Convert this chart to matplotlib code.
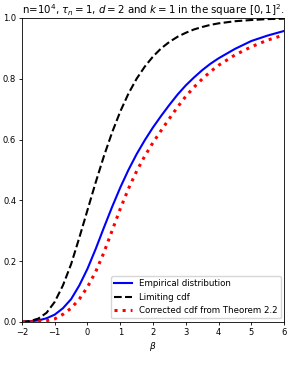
import matplotlib.pyplot as plt
import numpy as np

beta = [-2, -1.75, -1.5, -1.25, -1, -0.75, -0.5, -0.25, 0, 0.25, 0.5, 0.75, 1,
        1.25, 1.5, 1.75, 2, 2.25, 2.5, 2.75, 3, 3.25, 3.5, 3.75, 4, 4.5, 5, 5.5, 6]

empirical = [0.0, 0.002, 0.005, 0.012, 0.024, 0.045, 0.075, 0.12, 0.175, 0.24,
             0.31, 0.378, 0.442, 0.50, 0.552, 0.598, 0.64, 0.678, 0.714, 0.748,
             0.778, 0.804, 0.828, 0.849, 0.867, 0.898, 0.924, 0.942, 0.957]

limiting = [0.0006, 0.003, 0.011, 0.03, 0.066, 0.12, 0.19, 0.277, 0.368, 0.459,
            0.545, 0.623, 0.692, 0.751, 0.80, 0.84, 0.873, 0.90, 0.921, 0.938,
            0.951, 0.962, 0.970, 0.977, 0.982, 0.989, 0.993, 0.996, 0.9975]

corrected = [0.0, 0.0003, 0.001, 0.004, 0.01, 0.025, 0.045, 0.075, 0.115, 0.165,
             0.228, 0.30, 0.372, 0.438, 0.496, 0.546, 0.59, 0.63, 0.669, 0.707,
             0.742, 0.772, 0.799, 0.823, 0.844, 0.878, 0.905, 0.927, 0.944]

plt.rcParams['axes.linewidth'] = 0.6
plt.rcParams['xtick.major.size'] = 2.2
plt.rcParams['ytick.major.size'] = 2.2
plt.rcParams['xtick.major.width'] = 0.6
plt.rcParams['ytick.major.width'] = 0.6
plt.rcParams['xtick.major.pad'] = 2
plt.rcParams['ytick.major.pad'] = 2

fig = plt.figure(figsize=(2.89, 3.65), dpi=100)
ax = fig.add_axes([0.076, 0.118, 0.907, 0.833])

ax.plot(beta, empirical, color='blue', linewidth=1.5, label='Empirical distribution')
ax.plot(beta, limiting, color='black', linestyle='--', linewidth=1.5, label='Limiting cdf')
ax.plot(beta, corrected, color='red', linestyle=':', linewidth=2.2,
        label='Corrected cdf from Theorem 2.2')

ax.set_xlim(-2, 6)
ax.set_ylim(0, 1)
ax.set_xticks(np.arange(-2, 7, 1))
ax.set_yticks(np.arange(0, 1.01, 0.2))
ax.tick_params(labelsize=6)
ax.set_xlabel(r'$\beta$', fontsize=6.5, labelpad=2)
ax.set_title(r'n=10$^4$, $\tau_n=1$, $d=2$ and $k=1$ in the square $[0,1]^2$.',
             fontsize=7.4, pad=3)
ax.legend(loc='lower right', fontsize=6.2, borderaxespad=0.4)

fig.savefig('out.png', dpi=100)
